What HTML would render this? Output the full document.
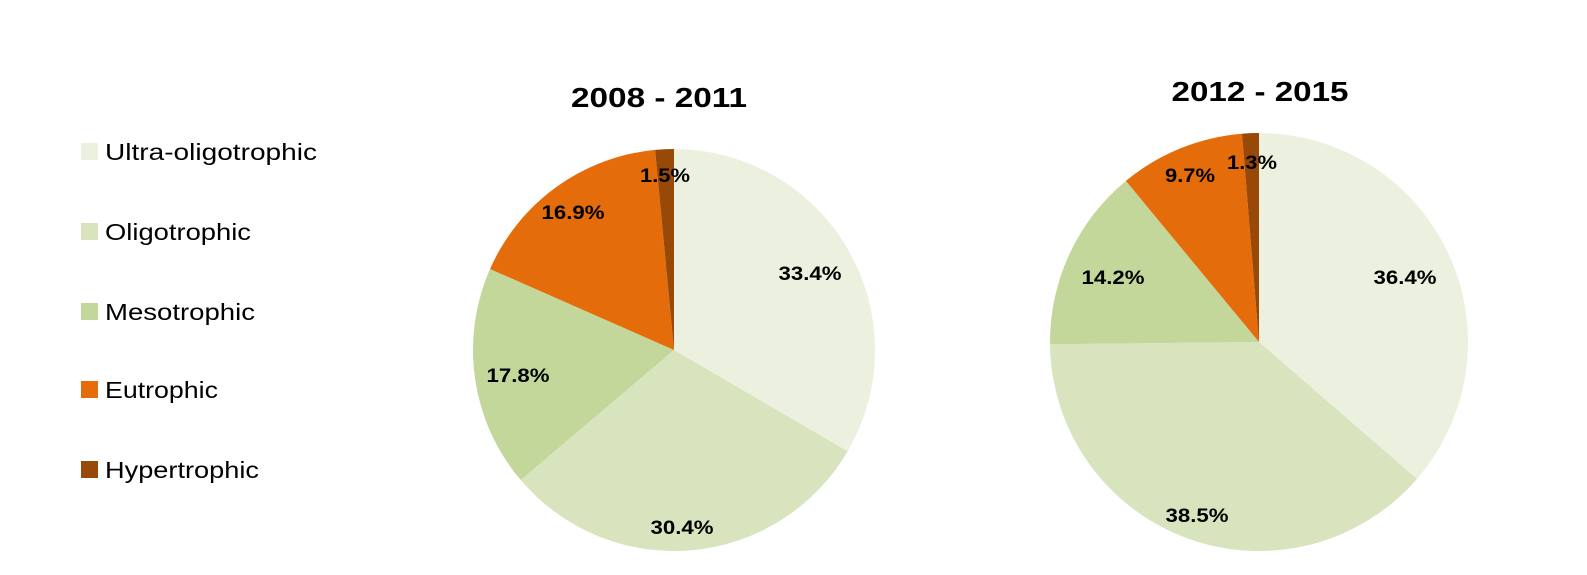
<!DOCTYPE html>
<html><head><meta charset="utf-8"><style>
html,body{margin:0;padding:0;background:#fff;}
svg{display:block;font-family:"Liberation Sans",sans-serif;}
</style></head><body>
<svg id="s" width="1587" height="575" xmlns="http://www.w3.org/2000/svg">
<rect width="1587" height="575" fill="#fff"/>
<g id="p1"></g><g id="p2"></g>
<text x="659" y="107" font-size="28" font-weight="bold" text-anchor="middle" textLength="176" lengthAdjust="spacingAndGlyphs">2008 - 2011</text>
<text x="1260" y="101" font-size="28" font-weight="bold" text-anchor="middle" textLength="177" lengthAdjust="spacingAndGlyphs">2012 - 2015</text>
<g font-size="23" fill="#000">
<rect x="81" y="143" width="17" height="17" fill="#EBF1DE"/><text x="105" y="160" textLength="212" lengthAdjust="spacingAndGlyphs">Ultra-oligotrophic</text>
<rect x="81" y="223" width="17" height="17" fill="#D7E4BD"/><text x="105" y="240" textLength="146" lengthAdjust="spacingAndGlyphs">Oligotrophic</text>
<rect x="81" y="303" width="17" height="17" fill="#C4D79B"/><text x="105" y="320" textLength="150" lengthAdjust="spacingAndGlyphs">Mesotrophic</text>
<rect x="81" y="381" width="17" height="17" fill="#E46C0A"/><text x="105" y="398" textLength="113" lengthAdjust="spacingAndGlyphs">Eutrophic</text>
<rect x="81" y="461" width="17" height="17" fill="#984807"/><text x="105" y="478" textLength="154" lengthAdjust="spacingAndGlyphs">Hypertrophic</text>
</g>
<g id="lbl" font-size="19" font-weight="bold" text-anchor="middle">
<text x="810" y="280" textLength="63" lengthAdjust="spacingAndGlyphs">33.4%</text>
<text x="682" y="534" textLength="63" lengthAdjust="spacingAndGlyphs">30.4%</text>
<text x="518" y="382" textLength="63" lengthAdjust="spacingAndGlyphs">17.8%</text>
<text x="573" y="219" textLength="63" lengthAdjust="spacingAndGlyphs">16.9%</text>
<text x="665" y="182" textLength="50" lengthAdjust="spacingAndGlyphs">1.5%</text>
<text x="1405" y="284" textLength="63" lengthAdjust="spacingAndGlyphs">36.4%</text>
<text x="1197" y="522" textLength="63" lengthAdjust="spacingAndGlyphs">38.5%</text>
<text x="1113" y="284" textLength="63" lengthAdjust="spacingAndGlyphs">14.2%</text>
<text x="1190" y="182" textLength="50" lengthAdjust="spacingAndGlyphs">9.7%</text>
<text x="1252" y="169" textLength="50" lengthAdjust="spacingAndGlyphs">1.3%</text>
</g>
</svg>
<script>
var cols=["#EBF1DE","#D7E4BD","#C4D79B","#E46C0A","#984807"];
function pie(id,cx,cy,r,vals){
 var g=document.getElementById(id),a=0,tot=vals.reduce(function(x,y){return x+y},0),h="";
 vals.forEach(function(v,i){
  var a2=a+v/tot*2*Math.PI;
  var x1=cx+r*Math.sin(a),y1=cy-r*Math.cos(a),x2=cx+r*Math.sin(a2),y2=cy-r*Math.cos(a2);
  h+='<path d="M'+cx+','+cy+' L'+x1+','+y1+' A'+r+','+r+' 0 '+((a2-a)>Math.PI?1:0)+' 1 '+x2+','+y2+' Z" fill="'+cols[i]+'"/>';
  a=a2;
 });
 g.innerHTML=h;
}
pie("p1",674,350,201,[33.4,30.4,17.8,16.9,1.5]);
pie("p2",1259,342,209,[36.4,38.5,14.2,9.7,1.3]);
</script>
</body></html>
